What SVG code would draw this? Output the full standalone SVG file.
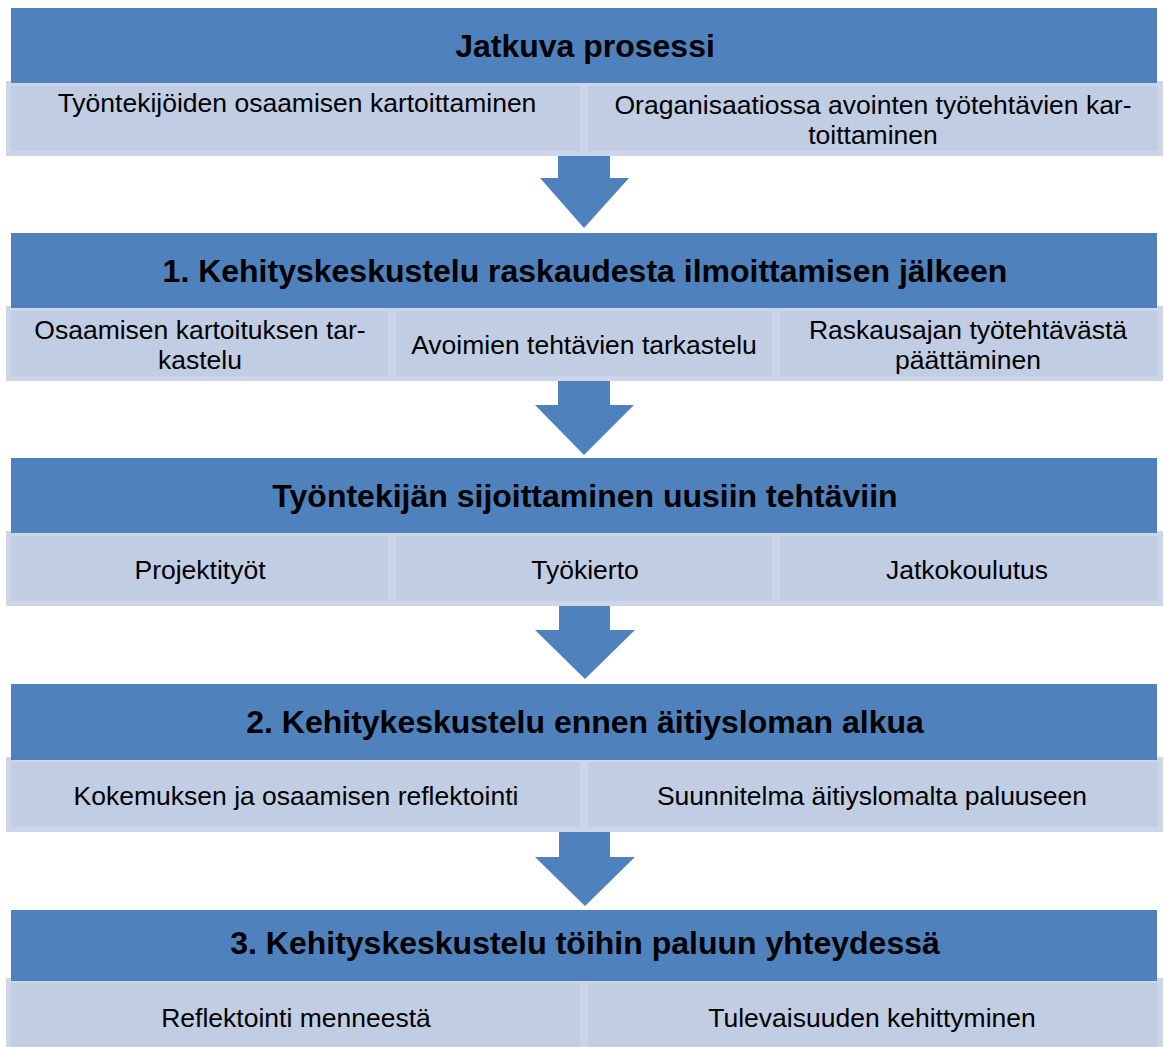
<svg xmlns="http://www.w3.org/2000/svg" width="1164" height="1047" viewBox="0 0 1164 1047">
<style>
.hdr{fill:#4f81bd}
.sub{fill:#c1cde3;stroke:#cdd6e8;stroke-width:5}
.arr{fill:#4f81bd}
.ht{font-family:"Liberation Sans",Arial,sans-serif;font-weight:bold;font-size:32px;fill:#000;text-anchor:middle}
.st{font-family:"Liberation Sans",Arial,sans-serif;font-size:26.5px;fill:#000;text-anchor:middle}
</style>
<rect width="1164" height="1047" fill="#fff"/>
<g id="connectors">
<polygon class="arr" points="558,154 610,154 610,178 629,178 584,228 540,178 558,178"/>
<polygon class="arr" points="558,379 610,379 610,405 634,405 584,455 535,405 558,405"/>
<polygon class="arr" points="559,604 610,604 610,630 635,630 585,679 535,630 559,630"/>
<polygon class="arr" points="559,830 610,830 610,857 635,857 585,906 535,857 559,857"/>
</g>
<g id="row1">
<g id="n1a"><rect class="sub" x="8.5" y="83.5" width="574" height="70"/><text class="st" x="297" y="112">Työntekijöiden osaamisen kartoittaminen</text></g>
<g id="n1b"><rect class="sub" x="585.5" y="83.5" width="575" height="70"/><text class="st" x="873" y="114">Oraganisaatiossa avointen työtehtävien kar-</text><text class="st" x="873" y="144">toittaminen</text></g>
<g id="h1"><rect class="hdr" x="11" y="8" width="1146" height="75"/><text class="ht" x="585" y="57">Jatkuva prosessi</text></g>
</g>
<g id="row2">
<g id="n2a"><rect class="sub" x="8.5" y="308.5" width="382" height="70"/><text class="st" x="200" y="339">Osaamisen kartoituksen tar-</text><text class="st" x="200" y="369">kastelu</text></g>
<g id="n2b"><rect class="sub" x="393.5" y="308.5" width="381" height="70"/><text class="st" x="584" y="354">Avoimien tehtävien tarkastelu</text></g>
<g id="n2c"><rect class="sub" x="777.5" y="308.5" width="383" height="70"/><text class="st" x="968" y="339">Raskausajan työtehtävästä</text><text class="st" x="968" y="369">päättäminen</text></g>
<g id="h2"><rect class="hdr" x="11" y="233" width="1146" height="75"/><text class="ht" x="585" y="282">1. Kehityskeskustelu raskaudesta ilmoittamisen jälkeen</text></g>
</g>
<g id="row3">
<g id="n3a"><rect class="sub" x="8.5" y="533.5" width="382" height="70"/><text class="st" x="200" y="579">Projektityöt</text></g>
<g id="n3b"><rect class="sub" x="393.5" y="533.5" width="381" height="70"/><text class="st" x="585" y="579">Työkierto</text></g>
<g id="n3c"><rect class="sub" x="777.5" y="533.5" width="383" height="70"/><text class="st" x="967" y="579">Jatkokoulutus</text></g>
<g id="h3"><rect class="hdr" x="11" y="458" width="1146" height="75"/><text class="ht" x="585" y="507">Työntekijän sijoittaminen uusiin tehtäviin</text></g>
</g>
<g id="row4">
<g id="n4a"><rect class="sub" x="8.5" y="759.5" width="574" height="70"/><text class="st" x="296" y="805">Kokemuksen ja osaamisen reflektointi</text></g>
<g id="n4b"><rect class="sub" x="585.5" y="759.5" width="575" height="70"/><text class="st" x="872" y="805">Suunnitelma äitiyslomalta paluuseen</text></g>
<g id="h4"><rect class="hdr" x="11" y="684" width="1146" height="76"/><text class="ht" x="585" y="733">2. Kehitykeskustelu ennen äitiysloman alkua</text></g>
</g>
<g id="row5">
<g id="n5a"><rect class="sub" x="8.5" y="980.5" width="574" height="72"/><text class="st" x="296" y="1027">Reflektointi menneestä</text></g>
<g id="n5b"><rect class="sub" x="585.5" y="980.5" width="575" height="72"/><text class="st" x="872" y="1027">Tulevaisuuden kehittyminen</text></g>
<g id="h5"><rect class="hdr" x="11" y="910" width="1146" height="71"/><text class="ht" x="585" y="954">3. Kehityskeskustelu töihin paluun yhteydessä</text></g>
</g>
</svg>
